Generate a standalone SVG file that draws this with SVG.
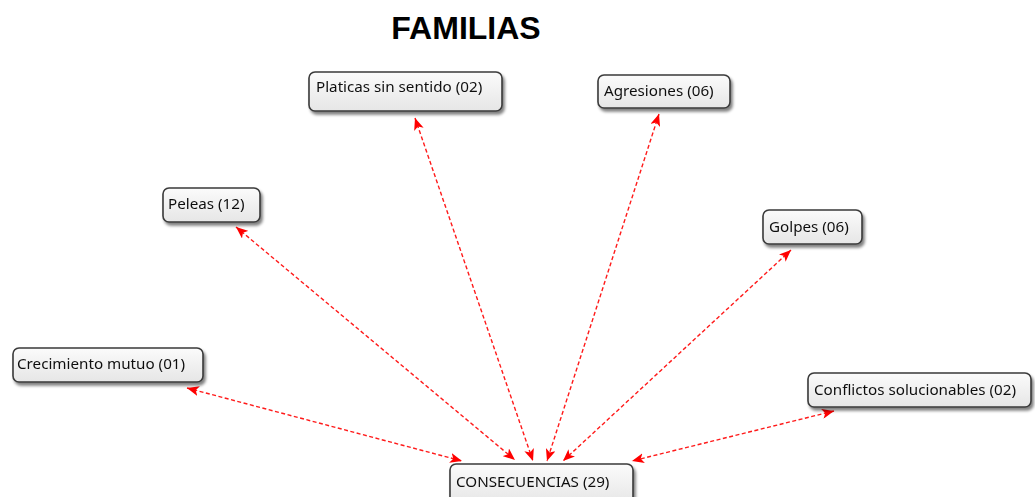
<svg xmlns="http://www.w3.org/2000/svg" width="1035" height="497" viewBox="0 0 1035 497">
<style>
.box{fill:url(#g);stroke:#3a3a3a;stroke-width:1.6}
.lbl{font-family:"Noto Sans","DejaVu Sans",sans-serif;font-size:15.2px;fill:#111}
.edge{stroke:#ff1a1a;stroke-width:1.4;stroke-dasharray:4 2.5;fill:none;marker-start:url(#ah);marker-end:url(#ah)}
.title{font-family:"Liberation Sans",Arial,sans-serif;font-weight:bold;font-size:32px;fill:#000}
</style>
<defs>
<linearGradient id="g" x1="0" y1="0" x2="0" y2="1">
<stop offset="0" stop-color="#fbfbfb"/>
<stop offset="1" stop-color="#e6e6e6"/>
</linearGradient>
<filter id="sh" x="-10%" y="-20%" width="130%" height="160%">
<feGaussianBlur in="SourceAlpha" stdDeviation="1.5"/>
<feOffset dx="2" dy="3" result="b"/>
<feComponentTransfer><feFuncA type="linear" slope="0.5"/></feComponentTransfer>
<feMerge><feMergeNode/><feMergeNode in="SourceGraphic"/></feMerge>
</filter>
<marker id="ah" viewBox="0 0 12 10" refX="12" refY="5" markerWidth="12" markerHeight="10" markerUnits="userSpaceOnUse" orient="auto-start-reverse">
<path d="M0,0 L12,5 L0,10 L3,5 Z" fill="#ff0000"/>
</marker>
</defs>
<rect width="1035" height="497" fill="#ffffff"/>
<text class="title" x="466" y="39" text-anchor="middle">FAMILIAS</text>
<g id="connectors">
<line class="edge" x1="415" y1="118" x2="533" y2="461"/>
<line class="edge" x1="659" y1="114" x2="547" y2="461"/>
<line class="edge" x1="236" y1="227" x2="515" y2="460"/>
<line class="edge" x1="791" y1="250" x2="563" y2="461"/>
<line class="edge" x1="187" y1="388" x2="462" y2="461"/>
<line class="edge" x1="834" y1="411" x2="632" y2="461"/>
</g>
<g id="n-platicas" filter="url(#sh)"><rect class="box" x="309" y="72" width="193" height="39" rx="6"/><text class="lbl" x="316" y="92">Platicas sin sentido (02)</text></g>
<g id="n-agresiones" filter="url(#sh)"><rect class="box" x="598" y="75" width="132" height="33" rx="6"/><text class="lbl" x="604" y="96">Agresiones (06)</text></g>
<g id="n-peleas" filter="url(#sh)"><rect class="box" x="163" y="188" width="97" height="34" rx="6"/><text class="lbl" x="168" y="209">Peleas (12)</text></g>
<g id="n-golpes" filter="url(#sh)"><rect class="box" x="763" y="210" width="99" height="34" rx="6"/><text class="lbl" x="769" y="232">Golpes (06)</text></g>
<g id="n-crecimiento" filter="url(#sh)"><rect class="box" x="13" y="348" width="190" height="34" rx="6"/><text class="lbl" x="17" y="369">Crecimiento mutuo (01)</text></g>
<g id="n-conflictos" filter="url(#sh)"><rect class="box" x="808" y="373" width="223" height="34" rx="6"/><text class="lbl" x="814" y="395">Conflictos solucionables (02)</text></g>
<g id="n-consecuencias" filter="url(#sh)"><rect class="box" x="450" y="464" width="183" height="40" rx="6"/><text class="lbl" x="456" y="487">CONSECUENCIAS (29)</text></g>
</svg>
